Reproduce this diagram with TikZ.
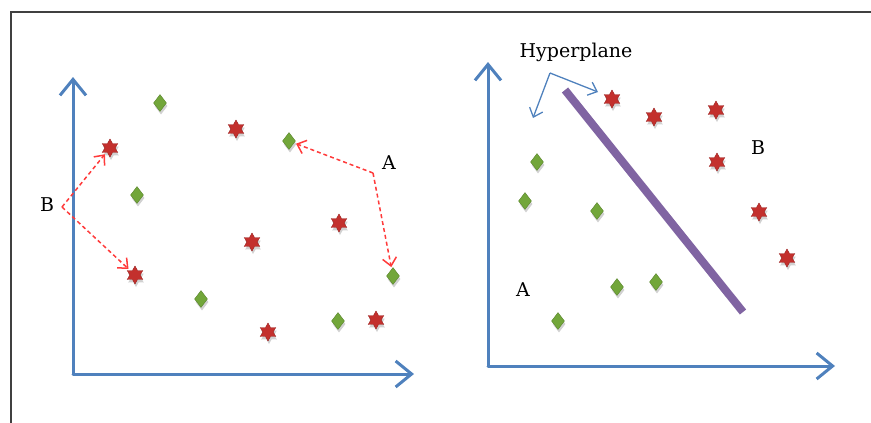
\documentclass[tikz,border=0pt]{standalone}
\usepackage{fontspec}
\setmainfont{DejaVu Serif}
\usepackage{tikz}
\usepackage{xcolor}
\usetikzlibrary{arrows.meta,shapes.geometric,shadows}
\definecolor{AxisBlue}{HTML}{4F81BD}
\definecolor{StarRed}{HTML}{C3302D}
\definecolor{LeafGreen}{HTML}{72A63A}
\definecolor{PlanePurple}{HTML}{8064A2}
\definecolor{HintRed}{HTML}{FF3B3B}
\definecolor{FrameGray}{HTML}{404040}

\begin{document}
\begin{tikzpicture}[x=1pt, y=-1pt,
    axis/.style={AxisBlue, line width=3pt, line cap=round,
        -{Straight Barb[length=16pt, width=26pt, line width=3pt]}},
    redpt/.style={star, star points=6, star point ratio=1.75, minimum size=18pt,
        inner sep=0pt, fill=StarRed, draw=StarRed!80!black, line width=0.4pt,
        drop shadow={shadow xshift=1pt, shadow yshift=-3pt, opacity=0.18, fill=black}},
    greenpt/.style={diamond, minimum width=13pt, minimum height=17pt, inner sep=0pt,
        fill=LeafGreen, draw=LeafGreen!80!black, line width=0.4pt,
        drop shadow={shadow xshift=1pt, shadow yshift=-3pt, opacity=0.18, fill=black}},
    hint/.style={HintRed, line width=1.5pt, dash pattern=on 4pt off 3pt, shorten >=2pt,
        -{Straight Barb[length=8pt, width=14pt, line width=1.5pt]}},
    callout/.style={AxisBlue, line width=1.3pt,
        -{Straight Barb[length=8pt, width=14pt, line width=1.3pt]}},
    lbl/.style={font=\fontsize{19}{21}\selectfont, inner sep=0pt}]
    \useasboundingbox (0,0) rectangle (871,423);

    % Frame
    \draw[FrameGray, line width=1.3pt] (11,423) -- (11,12) -- (871,12);

    % Axes
    \coordinate (oL) at (73,374);
    \coordinate (oR) at (488,366);
    \draw[axis] (oL) -- (73,77);
    \draw[axis] (oL) -- (414,374);
    \draw[axis] (oR) -- (488,62);
    \draw[axis] (oR) -- (835,366);

    % Left plot: scattered points
    \foreach \name/\x/\y in {gl1/160/103, gl2/137/195, gl3/289/141, gl4/393/276,
                             gl5/201/299, gl6/338/321} {
        \node[greenpt] (\name) at (\x,\y) {};
    }
    \foreach \name/\x/\y in {rl1/110/148, rl2/236/129, rl3/252/242, rl4/339/223,
                             rl5/135/275, rl6/268/332, rl7/376/320} {
        \node[redpt] (\name) at (\x,\y) {};
    }

    % Left plot: class labels with hints
    \node[lbl] (labB) at (47,205) {B};
    \node[lbl] (labA) at (389,163) {A};
    \coordinate (apexB) at (62,207);
    \coordinate (apexA) at (373,173);
    \draw[hint] (apexB) -- (rl1);
    \draw[hint] (apexB) -- (rl5);
    \draw[hint] (apexA) -- (gl3);
    \draw[hint] (apexA) -- (gl4);

    % Right plot: separated points
    \foreach \name/\x/\y in {gr1/537/162, gr2/525/201, gr3/597/211, gr4/617/287,
                             gr5/656/282, gr6/558/321} {
        \node[greenpt] (\name) at (\x,\y) {};
    }
    \foreach \name/\x/\y in {rr1/612/99, rr2/654/117, rr3/716/110, rr4/717/162,
                             rr5/759/212, rr6/787/258} {
        \node[redpt] (\name) at (\x,\y) {};
    }

    % Hyperplane
    \coordinate (hpTop) at (565,90);
    \coordinate (hpBot) at (743,312);
    \draw[PlanePurple, line width=8pt,
        drop shadow={shadow xshift=1pt, shadow yshift=-2pt, opacity=0.15}] (hpTop) -- (hpBot);
    \node[lbl] (labHp) at (576,52) {Hyperplane};
    \coordinate (apexHp) at (550,73);
    \coordinate (sideL) at (533,118);
    \coordinate (sideR) at (598,92);
    \draw[callout] (apexHp) -- (sideL);
    \draw[callout] (apexHp) -- (sideR);

    % Right plot: class labels
    \node[lbl] (labB2) at (758,148) {B};
    \node[lbl] (labA2) at (523,290) {A};

\end{tikzpicture}
\end{document}
